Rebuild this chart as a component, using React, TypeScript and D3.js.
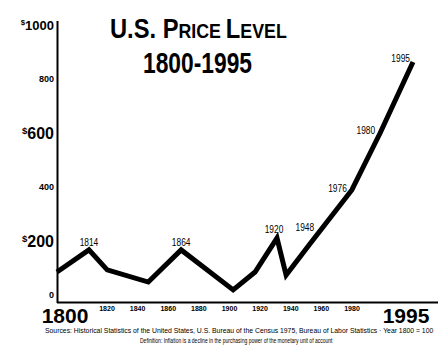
import React, { useLayoutEffect, useRef, useState } from "react";
import * as d3 from "d3";

// Data (x values read on a linear 1800–1995 axis)
const pointYears = [1800, 1817.5, 1827.5, 1850, 1868, 1896.5, 1908.5, 1920.5, 1925.5, 1938.5, 1961.5, 1977, 1995];
const priceLevels = [85, 167, 93, 48, 167, 19, 85, 211, 74, 189, 389, 600, 863];
const annotationIndex = [1, 4, 7, 9, 10, 11, 12];
const annotationLabels = ["1814", "1864", "1920", "1948", "1976", "1980", "1995"];
const yTickValues = [0, 200, 400, 600, 800, 1000];
const yTickLabels = ["0", "$200", "400", "$600", "800", "$1000"];
const xMinorTickLabels = ["1820", "1840", "1860", "1880", "1900", "1920", "1940", "1960", "1980"];
const xEndLabels = ["1800", "1995"];
const titleLine2 = "1800-1995";
const sourceLine = "Sources: Historical Statistics of the United States, U.S. Bureau of the Census 1975, Bureau of Labor Statistics \u00b7 Year 1800 = 100";
const definitionLine = "Definition: Inflation is a decline in the purchasing power of the monetary unit of account";

const NARROW = "'Liberation Sans Narrow', 'Arial Narrow', 'Liberation Sans', Arial, sans-serif";
const WIDE = "'Liberation Sans', Arial, sans-serif";

// Text horizontally scaled to a given width (condensed look)
function FitText({ x, y, width, anchor = "start", children, ...rest }: any) {
  const ref = useRef<SVGTextElement>(null);
  const [sx, setSx] = useState(1);
  useLayoutEffect(() => {
    if (ref.current) {
      const w = ref.current.getBBox().width;
      if (w > 0) setSx(width / w);
    }
  }, [width]);
  return (
    <g transform={`translate(${x},${y}) scale(${sx},1)`}>
      <text ref={ref} x={0} y={0} textAnchor={anchor} {...rest}>{children}</text>
    </g>
  );
}

export default function App() {
  const W = 446, H = 357;
  const x = d3.scaleLinear().domain([1800, 1995]).range([57, 413]);
  const y = d3.scaleLinear().domain([0, 1000]).range([295, 25]);
  const xTicks = d3.scalePoint<string>().domain(xMinorTickLabels).range([107, 352]);

  const pts: [number, number][] = pointYears.map((yr, i) => [x(yr), y(priceLevels[i])]);
  const line = d3.line<[number, number]>().x(d => d[0]).y(d => d[1])(pts) || "";

  // label offsets (anchor, dx, dy)
  const offs: [string, number, number][] = [
    ["middle", 0, -4],
    ["middle", 0, -4],
    ["middle", -3, -5],
    ["middle", -5, -13],
    ["end", -5, 2],
    ["end", -5, 1],
    ["end", -3, 0],
  ];

  const yStyle = (v: number) => {
    if (v === 1000) return { size: 13, cap: 9.5 };
    if (v % 400 === 200) return { size: 16, cap: 11.5 };
    return { size: 9, cap: 6.5 };
  };

  return (
    <div style={{ margin: -8, width: W, height: H, background: "#fff" }}>
      <svg width={W} height={H} style={{ display: "block", background: "#fff" }}>
        {/* Title */}
        <FitText x={110} y={38} width={177} fontFamily={WIDE} fontWeight="bold" fontSize={28} fill="#000">
          <tspan>U.S. P</tspan>
          <tspan fontSize={21}>RICE </tspan>
          <tspan>L</tspan>
          <tspan fontSize={21}>EVEL</tspan>
        </FitText>
        <FitText x={143} y={73} width={109} fontFamily={WIDE} fontWeight="bold" fontSize={29} fill="#000">
          {titleLine2}
        </FitText>

        {/* Axes */}
        <line x1={57.5} x2={57.5} y1={21} y2={303} stroke="#000" strokeWidth={2} />
        <line x1={57} x2={442} y1={302.5} y2={302.5} stroke="#000" strokeWidth={2} />

        {/* Y tick labels */}
        {yTickValues.map((v, i) => {
          const s = yStyle(v);
          const lab = yTickLabels[i];
          const hasDollar = lab.startsWith("$");
          return (
            <text key={v} x={54} y={y(v) + s.cap / 2} textAnchor="end" fontFamily={NARROW} fontWeight="bold" fontSize={s.size} fill="#000">
              {hasDollar ? (
                <>
                  <tspan fontSize={s.size * 0.6} dy={-s.cap * 0.45}>$</tspan>
                  <tspan dy={s.cap * 0.45}>{lab.slice(1)}</tspan>
                </>
              ) : lab}
            </text>
          );
        })}

        {/* X tick labels */}
        {xMinorTickLabels.map(t => (
          <text key={t} x={xTicks(t)} y={310.5} textAnchor="middle" fontFamily={NARROW} fontWeight="bold" fontSize={7} fill="#000">{t}</text>
        ))}
        <text x={65} y={322.5} textAnchor="middle" fontFamily={WIDE} fontWeight="bold" fontSize={21} fill="#000">{xEndLabels[0]}</text>
        <text x={406} y={322.5} textAnchor="middle" fontFamily={WIDE} fontWeight="bold" fontSize={21} fill="#000">{xEndLabels[1]}</text>

        {/* Line */}
        <path d={line} fill="none" stroke="#000" strokeWidth={5} strokeLinejoin="miter" strokeMiterlimit={6} />

        {/* Annotations */}
        {annotationLabels.map((lab, i) => {
          const [px, py] = pts[annotationIndex[i]];
          const [anchor, dx, dy] = offs[i];
          return (
            <FitText key={lab} x={px + dx} y={py + dy} width={19} anchor={anchor} fontFamily={WIDE} fontSize={10} fill="#000">{lab}</FitText>
          );
        })}

        {/* Footer */}
        <FitText x={45} y={332.5} width={390} fontFamily={WIDE} fontSize={6.5} fill="#000">{sourceLine}</FitText>
        <FitText x={140} y={342.5} width={193} fontFamily={WIDE} fontSize={6.5} fill="#000">{definitionLine}</FitText>
      </svg>
    </div>
  );
}
